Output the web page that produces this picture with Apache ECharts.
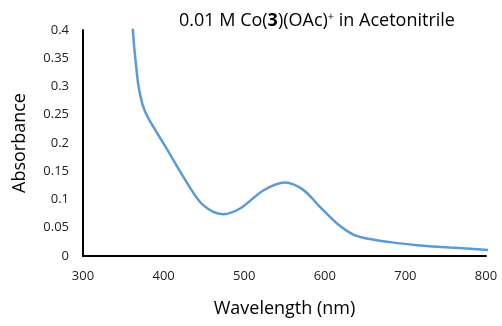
<!DOCTYPE html>
<html>
<head>
<meta charset="utf-8">
<script src="https://cdn.jsdelivr.net/npm/echarts@6/dist/echarts.min.js"></script>
<style>
  html, body { margin: 0; padding: 0; background: #fff; }
  #chart { width: 502px; height: 326px; }
</style>
</head>
<body>
<div id="chart"></div>
<script>
// wavelength (nm) and absorbance
const wavelength = [358, 361.7, 363.3, 365.8, 368.6, 374.1, 381, 403.8, 424.5, 445, 461.7, 474, 494.8, 523.7, 550.6, 573.3, 594, 614.8, 635.4, 656, 678.8, 714, 755, 803];
const absorbance = [0.46, 0.403, 0.373, 0.338, 0.303, 0.267, 0.244, 0.190, 0.140, 0.096, 0.078, 0.074, 0.084, 0.116, 0.130, 0.117, 0.087, 0.058, 0.038, 0.030, 0.025, 0.019, 0.015, 0.0106];
const xTicks = [300, 400, 500, 600, 700, 800];

const font = 'Open Sans';
const chart = echarts.init(document.getElementById('chart'));

chart.setOption({
  animation: false,
  title: {
    text: '{n|0.01 M Co(}{b|3}{n|)(OAc)}{s|+}{n| in Acetonitrile}',
    left: 174,
    top: 6,
    textStyle: {
      fontWeight: 'normal',
      rich: {
        n: { fontFamily: font, fontSize: 18, fontWeight: 'normal', color: '#000' },
        b: { fontFamily: font, fontSize: 18, fontWeight: 'bold', color: '#000' },
        s: { fontFamily: font, fontSize: 11, fontWeight: 'normal', color: '#000', verticalAlign: 'top', padding: [0, 0, 9, 0] }
      }
    }
  },
  grid: { left: 83, right: 16, top: 30, bottom: 70 },
  xAxis: {
    type: 'value',
    min: xTicks[0],
    max: xTicks[xTicks.length - 1],
    interval: 100,
    name: 'Wavelength (nm)',
    nameLocation: 'middle',
    nameGap: 44,
    nameTextStyle: { fontFamily: font, fontSize: 18, color: '#000' },
    axisLine: { lineStyle: { color: '#000', width: 2 } },
    axisTick: { show: false },
    splitLine: { show: false },
    axisLabel: { fontFamily: font, fontSize: 13, color: '#222', margin: 14 }
  },
  yAxis: {
    type: 'value',
    min: 0,
    max: 0.4,
    interval: 0.05,
    name: 'Absorbance',
    nameLocation: 'middle',
    nameGap: 54,
    nameTextStyle: { fontFamily: font, fontSize: 18, color: '#000' },
    axisLine: { show: true, lineStyle: { color: '#000', width: 2 } },
    axisTick: { show: false },
    splitLine: { show: false },
    axisLabel: { fontFamily: font, fontSize: 13, color: '#222', margin: 14 }
  },
  series: [{
    type: 'line',
    data: wavelength.map((w, i) => [w, absorbance[i]]),
    smooth: 0.3,
    showSymbol: false,
    clip: true,
    lineStyle: { color: '#5B9BD5', width: 2.5 }
  }]
});
</script>
</body>
</html>
